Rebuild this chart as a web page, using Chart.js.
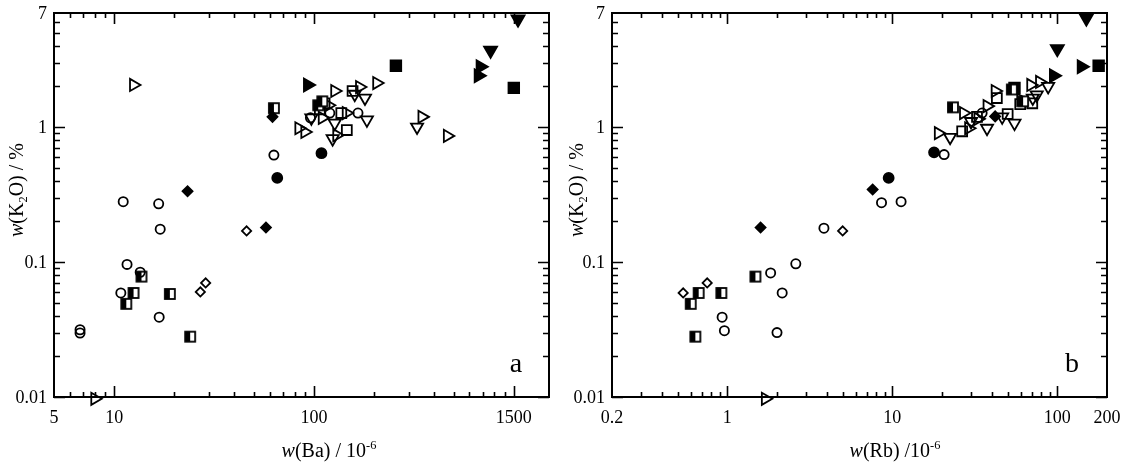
<!DOCTYPE html>
<html>
<head>
<meta charset="utf-8">
<script src="https://cdn.jsdelivr.net/npm/chart.js@4.4.0/dist/chart.umd.min.js"></script>
<style>
  html, body { margin: 0; padding: 0; background: #fff; }
  #wrap { position: relative; width: 1136px; height: 465px; }
  canvas { position: absolute; top: 0; }
</style>
</head>
<body>
<div id="wrap">
  <canvas id="chartA" width="560" height="465" style="left:0;width:560px;height:465px"></canvas>
  <canvas id="chartB" width="576" height="465" style="left:560px;width:576px;height:465px"></canvas>
</div>
<script>
// K2O axis (shared)
const yMin = 0.01, yMax = 7;
const yMajor = [0.01, 0.1, 1];
const yMinor = [0.02, 0.03, 0.04, 0.05, 0.06, 0.07, 0.08, 0.09,
                0.2, 0.3, 0.4, 0.5, 0.6, 0.7, 0.8, 0.9, 2, 3, 4, 5, 6];
const yLabelValues = [0.01, 0.1, 1, 7];
const yLabelText = ['0.01', '0.1', '1', '7'];

// Ba axis (a)
const baMin = 5, baMax = 1500;
const baMajor = [10, 100, 1000];
const baMinor = [6, 7, 8, 9, 20, 30, 40, 50, 60, 70, 80, 90,
                 200, 300, 400, 500, 600, 700, 800, 900];
const baLabelValues = [5, 10, 100, 1000];
const baLabelText = ['5', '10', '100', '1500'];

// Rb axis (b)
const rbMin = 0.2, rbMax = 200;
const rbMajor = [1, 10, 100];
const rbMinor = [0.3, 0.4, 0.5, 0.6, 0.7, 0.8, 0.9, 2, 3, 4, 5, 6, 7, 8, 9,
                 20, 30, 40, 50, 60, 70, 80, 90];
const rbLabelValues = [0.2, 1, 10, 100, 200];
const rbLabelText = ['0.2', '1', '10', '100', '200'];

// panel a: [Ba, K2O]
const baOpenCircle = [[6.75, 0.0315], [6.75, 0.0298], [10.8, 0.059], [11.1, 0.28], [11.6, 0.096],
  [13.5, 0.084], [16.7, 0.27], [16.8, 0.039], [17, 0.175], [63, 0.62], [96, 1.17], [120, 1.27], [166, 1.27]];
const baFilledCircle = [[65.5, 0.42], [109, 0.64]];
const baOpenDiamond = [[27, 0.06], [28.7, 0.07], [46, 0.17]];
const baFilledDiamond = [[23.3, 0.335], [57.5, 0.18], [62, 1.19]];
const baHalfSquare = [[11.5, 0.049], [12.5, 0.059], [13.7, 0.078], [19, 0.058], [24, 0.028],
  [63, 1.38], [105, 1.45], [110, 1.55]];
const baOpenSquare = [[107, 1.35], [113, 1.5], [137, 1.27], [146, 0.95], [156, 1.85]];
const baFilledSquare = [[257, 2.85], [1000, 1.95]];
const baOpenTriRight = [[8, 0.0097], [12.5, 2.05], [84, 0.98], [90, 0.92], [110, 1.17], [118, 1.45],
  [127, 1.85], [130, 0.87], [145, 1.27], [169, 1.98], [206, 2.12], [347, 1.19], [465, 0.86]];
const baFilledTriRight = [[93, 2.05], [665, 2.4], [680, 2.8]];
const baOpenTriDown = [[97, 1.17], [124, 0.82], [127, 1.07], [160, 1.75], [180, 1.64], [184, 1.13], [328, 1.0]];
const baFilledTriDown = [[765, 3.7], [1050, 6.3]];

// panel b: [Rb, K2O]
const rbOpenCircle = [[0.93, 0.039], [0.96, 0.031], [1.83, 0.083], [2.0, 0.03], [2.15, 0.059],
  [2.6, 0.097], [3.85, 0.178], [8.6, 0.275], [11.3, 0.28], [20.6, 0.625], [35, 1.27]];
const rbFilledCircle = [[9.5, 0.42], [17.9, 0.65]];
const rbOpenDiamond = [[0.54, 0.059], [0.755, 0.07], [5.0, 0.17]];
const rbFilledDiamond = [[1.59, 0.18], [7.6, 0.345], [42, 1.2]];
const rbHalfSquare = [[0.6, 0.049], [0.64, 0.028], [0.67, 0.059], [0.92, 0.059], [1.48, 0.078],
  [23.3, 1.4], [53, 1.9], [62, 1.55]];
const rbOpenSquare = [[26.5, 0.93], [32.6, 1.19], [43, 1.64], [50, 1.25], [59.6, 1.48], [70.5, 1.5]];
const rbFilledSquare = [[55, 1.95], [178, 2.85]];
const rbOpenTriRight = [[1.7, 0.0097], [19, 0.9], [27, 1.27], [29, 0.98], [33, 1.15], [37.5, 1.43],
  [42, 1.85], [60, 1.6], [69, 2.05], [78, 2.16]];
const rbFilledTriRight = [[95, 2.4], [140, 2.8]];
const rbOpenTriDown = [[22.4, 0.84], [30, 1.1], [37.5, 0.98], [46.3, 1.19], [55, 1.07], [71, 1.64], [75, 1.73], [88, 2.0]];
const rbFilledTriDown = [[100, 3.8], [150, 6.4]];

const SERIF = '"Liberation Serif", "Times New Roman", serif';

// half filled square marker
const halfSq = document.createElement('canvas');
halfSq.width = 14; halfSq.height = 14;
(function () {
  const c = halfSq.getContext('2d');
  c.fillStyle = '#fff'; c.fillRect(2, 2, 10, 10);
  c.fillStyle = '#000'; c.fillRect(2, 2, 5, 10);
  c.lineWidth = 1.8; c.strokeStyle = '#000'; c.strokeRect(2, 2, 10, 10);
})();

const NONE = 'rgba(0,0,0,0)';
const styles = {
  openCircle:    { pointStyle: 'circle', pointRadius: 4.6, backgroundColor: NONE },
  filledCircle:  { pointStyle: 'circle', pointRadius: 5, backgroundColor: '#000' },
  openDiamond:   { pointStyle: 'rectRot', pointRadius: 4.6, backgroundColor: NONE },
  filledDiamond: { pointStyle: 'rectRot', pointRadius: 5, backgroundColor: '#000' },
  halfSquare:    { pointStyle: halfSq },
  openSquare:    { pointStyle: 'rect', pointRadius: 7, backgroundColor: NONE },
  filledSquare:  { pointStyle: 'rect', pointRadius: 7.5, backgroundColor: '#000' },
  openTriRight:  { pointStyle: 'triangle', pointRotation: 90, pointRadius: 7, backgroundColor: NONE },
  filledTriRight:{ pointStyle: 'triangle', pointRotation: 90, pointRadius: 7.5, backgroundColor: '#000' },
  openTriDown:   { pointStyle: 'triangle', pointRotation: 180, pointRadius: 7, backgroundColor: NONE },
  filledTriDown: { pointStyle: 'triangle', pointRotation: 180, pointRadius: 7.5, backgroundColor: '#000' }
};

function ds(points, style) {
  return Object.assign({
    data: points.map(p => ({ x: p[0], y: p[1] })),
    borderColor: '#000', borderWidth: 1.8, clip: false
  }, styles[style]);
}

// text with italic / sub / sup pieces, centred on x
function drawRich(ctx, segs, x, y, size) {
  const parts = segs.map(([t, s]) => {
    const small = s === 'sub' || s === 'sup';
    const font = (s === 'i' ? 'italic ' : '') + (small ? size * 0.62 : size) + 'px ' + SERIF;
    ctx.font = font;
    return { t, s, font, w: ctx.measureText(t).width };
  });
  let cx = x - parts.reduce((a, p) => a + p.w, 0) / 2;
  ctx.textAlign = 'left';
  ctx.textBaseline = 'alphabetic';
  for (const p of parts) {
    ctx.font = p.font;
    const dy = p.s === 'sub' ? size * 0.2 : p.s === 'sup' ? -size * 0.42 : 0;
    ctx.fillText(p.t, cx, y + dy);
    cx += p.w;
  }
}

const yTitle = [['w', 'i'], ['(K', ''], ['2', 'sub'], ['O) / %', '']];

function framePlugin(cfg) {
  return {
    id: 'frame',
    beforeDatasetsDraw(chart) {
      const { ctx, chartArea: a } = chart;
      const xs = chart.scales.x, ys = chart.scales.y;
      ctx.save();
      ctx.strokeStyle = '#000';
      ctx.fillStyle = '#000';
      ctx.lineWidth = 2;
      ctx.strokeRect(a.left, a.top, a.right - a.left, a.bottom - a.top);

      ctx.lineWidth = 1.6;
      ctx.beginPath();
      [[cfg.xMajor, 11], [cfg.xMinor, 5]].forEach(([vals, len]) => vals.forEach(v => {
        const px = Math.round(xs.getPixelForValue(v)) + 0.5;
        ctx.moveTo(px, a.bottom); ctx.lineTo(px, a.bottom - len);
        ctx.moveTo(px, a.top); ctx.lineTo(px, a.top + len);
      }));
      [[yMajor, 11], [yMinor, 6]].forEach(([vals, len]) => vals.forEach(v => {
        const py = Math.round(ys.getPixelForValue(v)) + 0.5;
        ctx.moveTo(a.left, py); ctx.lineTo(a.left + len, py);
        ctx.moveTo(a.right, py); ctx.lineTo(a.right - len, py);
      }));
      ctx.stroke();

      ctx.font = '18px ' + SERIF;
      ctx.textAlign = 'right';
      ctx.textBaseline = 'middle';
      yLabelValues.forEach((v, i) => {
        ctx.fillText(yLabelText[i], a.left - 7, ys.getPixelForValue(v) + 1);
      });
      ctx.textAlign = 'center';
      ctx.textBaseline = 'alphabetic';
      cfg.xLabelValues.forEach((v, i) => {
        ctx.fillText(cfg.xLabelText[i], xs.getPixelForValue(v), a.bottom + 26);
      });

      // panel letter
      ctx.font = '28px ' + SERIF;
      ctx.fillText(cfg.letter, cfg.letterX, a.bottom - 25);

      // axis titles
      drawRich(ctx, cfg.xTitle, cfg.xTitleX, 457, 20);
      ctx.translate(23, (a.top + a.bottom) / 2 - 15);
      ctx.rotate(-Math.PI / 2);
      drawRich(ctx, yTitle, 0, 0, 20);
      ctx.restore();
    }
  };
}

function makeChart(id, xMin, xMax, datasets, cfg) {
  return new Chart(document.getElementById(id), {
    type: 'scatter',
    data: { datasets },
    options: {
      responsive: false,
      animation: false,
      devicePixelRatio: 1,
      layout: { padding: cfg.pad },
      plugins: { legend: { display: false }, tooltip: { enabled: false } },
      scales: {
        x: { type: 'logarithmic', min: xMin, max: xMax, display: false },
        y: { type: 'logarithmic', min: yMin, max: yMax, display: false }
      }
    },
    plugins: [framePlugin(cfg)]
  });
}

makeChart('chartA', baMin, baMax, [
  ds(baOpenCircle, 'openCircle'), ds(baFilledCircle, 'filledCircle'),
  ds(baOpenDiamond, 'openDiamond'), ds(baFilledDiamond, 'filledDiamond'),
  ds(baHalfSquare, 'halfSquare'), ds(baOpenSquare, 'openSquare'), ds(baFilledSquare, 'filledSquare'),
  ds(baOpenTriRight, 'openTriRight'), ds(baFilledTriRight, 'filledTriRight'),
  ds(baOpenTriDown, 'openTriDown'), ds(baFilledTriDown, 'filledTriDown')
], {
  pad: { left: 54, right: 11, top: 13, bottom: 68 },
  xMajor: baMajor, xMinor: baMinor,
  xLabelValues: baLabelValues, xLabelText: baLabelText,
  xTitle: [['w', 'i'], ['(Ba) / 10', ''], ['-6', 'sup']], xTitleX: 329,
  letter: 'a', letterX: 516
});

makeChart('chartB', rbMin, rbMax, [
  ds(rbOpenCircle, 'openCircle'), ds(rbFilledCircle, 'filledCircle'),
  ds(rbOpenDiamond, 'openDiamond'), ds(rbFilledDiamond, 'filledDiamond'),
  ds(rbHalfSquare, 'halfSquare'), ds(rbOpenSquare, 'openSquare'), ds(rbFilledSquare, 'filledSquare'),
  ds(rbOpenTriRight, 'openTriRight'), ds(rbFilledTriRight, 'filledTriRight'),
  ds(rbOpenTriDown, 'openTriDown'), ds(rbFilledTriDown, 'filledTriDown')
], {
  pad: { left: 52, right: 29, top: 13, bottom: 68 },
  xMajor: rbMajor, xMinor: rbMinor,
  xLabelValues: rbLabelValues, xLabelText: rbLabelText,
  xTitle: [['w', 'i'], ['(Rb) /10', ''], ['-6', 'sup']], xTitleX: 335,
  letter: 'b', letterX: 512
});
</script>
</body>
</html>
